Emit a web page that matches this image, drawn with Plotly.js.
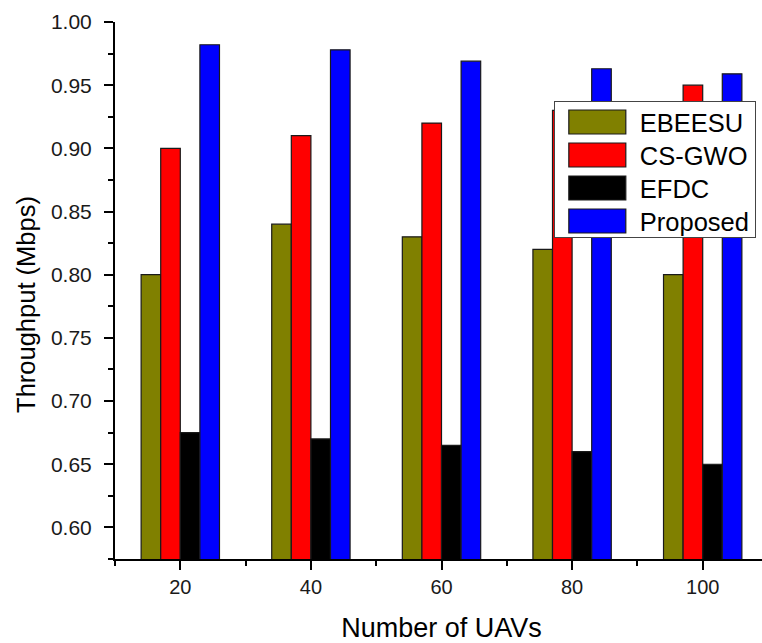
<!DOCTYPE html>
<html>
<head>
<meta charset="utf-8">
<script src="https://cdn.plot.ly/plotly-3.0.1.min.js"></script>
<style>
html,body{margin:0;padding:0;overflow:hidden;background:#fff;}
#chart{width:772px;height:643px;}
</style>
</head>
<body>
<div id="chart"></div>
<script>
const uavs = [20, 40, 60, 80, 100];
const seriesNames = ["EBEESU", "CS-GWO", "EFDC", "Proposed"];
const ebeesu = [0.80, 0.84, 0.83, 0.82, 0.80];
const csgwo = [0.90, 0.91, 0.92, 0.93, 0.95];
const efdc = [0.675, 0.670, 0.665, 0.660, 0.650];
const proposed = [0.982, 0.978, 0.969, 0.963, 0.959];
const colors = ["#808000", "#ff0000", "#000000", "#0000ff"];
const yTicks = [0.60, 0.65, 0.70, 0.75, 0.80, 0.85, 0.90, 0.95, 1.00];

const allSeries = [ebeesu, csgwo, efdc, proposed];
const traces = allSeries.map((vals, i) => ({
  type: "bar",
  name: seriesNames[i],
  x: uavs,
  y: vals,
  marker: {color: colors[i], line: {color: "#1a1a1a", width: 1.2}},
  hoverinfo: "x+y+name"
}));

const FF = "Arial, 'Liberation Sans', sans-serif";
const layout = {
  width: 772,
  height: 643,
  margin: {l: 115, r: 4, t: 22, b: 84},
  paper_bgcolor: "#ffffff",
  plot_bgcolor: "#ffffff",
  barmode: "group",
  bargap: 0.4,
  bargroupgap: 0,
  showlegend: true,
  legend: {
    x: 0.672, y: 0.853, xanchor: "left", yanchor: "top",
    bgcolor: "#ffffff",
    bordercolor: "#444444",
    borderwidth: 1,
    font: {family: FF, size: 25.5, color: "#000"},
    tracegroupgap: 0,
    itemwidth: 75,
    traceorder: "normal"
  },
  xaxis: {
    range: [10, 110],
    tickmode: "array",
    tickvals: uavs,
    ticktext: uavs.map(String),
    ticks: "outside",
    ticklen: 9,
    tickwidth: 2,
    tickcolor: "#000",
    minor: {tickmode: "array", tickvals: [10, 30, 50, 70, 90, 110], ticks: "outside", ticklen: 5, tickwidth: 2, tickcolor: "#000"},
    showline: true,
    linecolor: "#000",
    linewidth: 2,
    showgrid: false,
    zeroline: false,
    tickfont: {family: FF, size: 20, color: "#1a1a1a"},
    title: {text: "Number of UAVs", font: {family: FF, size: 27, color: "#000"}, standoff: 21}
  },
  yaxis: {
    range: [0.575, 1.0],
    tickmode: "array",
    tickvals: yTicks,
    ticktext: yTicks.map(v => v.toFixed(2)),
    ticks: "outside",
    ticklen: 9,
    tickwidth: 2,
    tickcolor: "#000",
    ticklabelstandoff: 8,
    minor: {dtick: 0.025, tick0: 0.575, ticks: "outside", ticklen: 5, tickwidth: 2, tickcolor: "#000"},
    showline: true,
    linecolor: "#000",
    linewidth: 2,
    showgrid: false,
    zeroline: false,
    tickfont: {family: FF, size: 21, color: "#1a1a1a"},
    title: {text: "Throughput (Mbps)", font: {family: FF, size: 25.5, color: "#000"}, standoff: 8}
  }
};

Plotly.newPlot("chart", traces, layout, {displayModeBar: false, staticPlot: true}).then(gd => {
  gd.querySelectorAll(".legend .legendpoints path").forEach(p => {
    p.setAttribute("d", "M28.5,12H-28.5V-12H28.5Z");
  });
  // tighten legend row spacing
  const items = Array.from(gd.querySelectorAll(".legend .traces"));
  const parseT = el => {
    const m = /translate\(\s*([-\d.]+)[ ,]+([-\d.]+)\s*\)/.exec(el.getAttribute("transform") || "");
    return m ? [parseFloat(m[1]), parseFloat(m[2])] : null;
  };
  if (items.length > 1) {
    const t0 = parseT(items[0]);
    const t1 = parseT(items[1]);
    if (t0 && t1) {
      const oldStep = t1[1] - t0[1];
      const newStep = 33;
      const y0 = t0[1] - 3;
      items.forEach((it, i) => {
        const t = parseT(it);
        it.setAttribute("transform", "translate(" + t[0] + "," + (y0 + newStep * i) + ")");
      });
      const bg = gd.querySelector(".legend rect.bg");
      if (bg) {
        const h = parseFloat(bg.getAttribute("height"));
        bg.setAttribute("height", h - (oldStep - newStep) * (items.length - 1) - 10);
      }
    }
  }
  const yt = gd.querySelector(".ytitle");
  if (yt) {
    const x = parseFloat(yt.getAttribute("x"));
    const y = parseFloat(yt.getAttribute("y")) + 14;
    yt.setAttribute("y", y);
    yt.setAttribute("transform", "rotate(-90," + x + "," + y + ")");
  }
});
</script>
</body>
</html>
